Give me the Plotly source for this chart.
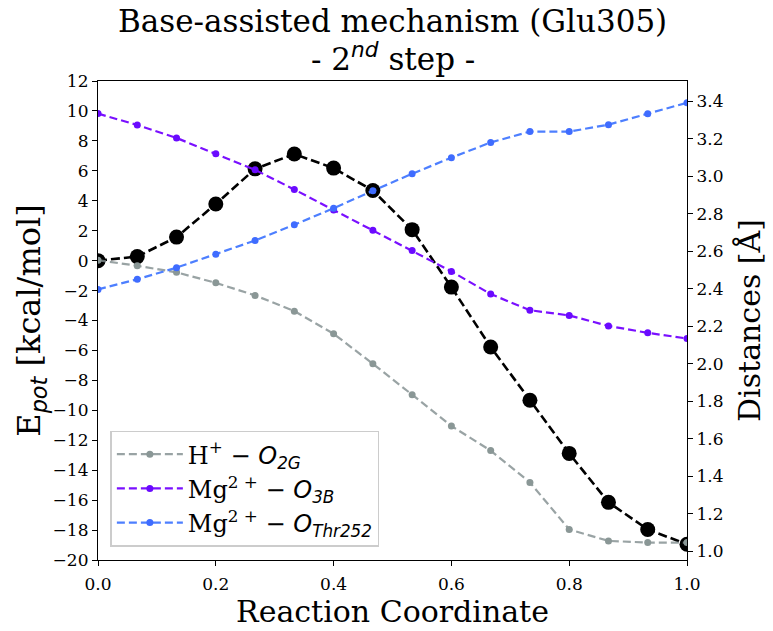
import plotly.graph_objects as go

# Reaction coordinate (16 images)
rc = [i / 15 for i in range(16)]

# Potential energy [kcal/mol] (left axis)
epot = [0.0, 0.27, 1.57, 3.78, 6.13, 7.12, 6.18, 4.68, 2.07, -1.77, -5.77,
        -9.33, -12.88, -16.15, -17.96, -18.95]

# Distances [Å] (right axis)
d_h_o2g = [2.553, 2.523, 2.488, 2.432, 2.365, 2.281, 2.160, 2.000, 1.835, 1.668,
           1.537, 1.367, 1.116, 1.055, 1.046, 1.046]
d_mg_o3b = [3.335, 3.274, 3.205, 3.121, 3.035, 2.930, 2.821, 2.713, 2.605, 2.493,
            2.372, 2.286, 2.258, 2.202, 2.165, 2.135]
d_mg_othr = [2.397, 2.451, 2.513, 2.584, 2.658, 2.742, 2.830, 2.923, 3.014, 3.100,
             3.181, 3.239, 3.239, 3.276, 3.334, 3.393]

x_ticks = [0.0, 0.2, 0.4, 0.6, 0.8, 1.0]
y_ticks = list(range(-20, 13, 2))
y2_ticks = [1.0, 1.2, 1.4, 1.6, 1.8, 2.0, 2.2, 2.4, 2.6, 2.8, 3.0, 3.2, 3.4]

SERIF = "DejaVu Serif"
SANS = "DejaVu Sans"

def sans_it(t):
    return f'<span style="font-family:{SANS};font-style:italic">{t}</span>'

names = [
    "H<sup>+</sup> − " + sans_it("O") + "<sub>" + sans_it("2G") + "</sub>",
    "Mg<sup>2 +</sup> − " + sans_it("O") + "<sub>" + sans_it("3B") + "</sub>",
    "Mg<sup>2 +</sup> − " + sans_it("O") + "<sub>" + sans_it("Thr252") + "</sub>",
]
dist_series = [d_h_o2g, d_mg_o3b, d_mg_othr]
line_colors = ["rgba(127,140,141,0.8)", "#7a10ff", "#4d7fff"]
marker_colors = ["#8a9796", "#6a0aff", "#3f6cff"]
line_widths = [2.2, 2.2, 2.2]

fig = go.Figure()

fig.add_trace(go.Scatter(
    x=rc, y=epot, mode="lines+markers", yaxis="y", showlegend=False,
    line=dict(color="black", width=2.6, dash="9px,4px"),
    marker=dict(color="black", size=15),
))

for nm, ys, lc, mc, lw in zip(names, dist_series, line_colors, marker_colors, line_widths):
    fig.add_trace(go.Scatter(
        x=rc, y=ys, mode="lines+markers", yaxis="y2", name=nm,
        line=dict(color=lc, width=lw, dash="8px,4px"),
        marker=dict(color=mc, size=7),
    ))

axis_common = dict(
    showline=True, linecolor="black", linewidth=1.2,
    ticks="outside", ticklen=5, tickwidth=1.2, tickcolor="black",
    showgrid=False, zeroline=False,
    tickfont=dict(family=SERIF, size=17, color="black"),
)

fig.update_layout(
    width=773, height=631,
    margin=dict(l=97.5, r=84, t=81, b=64.3),
    plot_bgcolor="white", paper_bgcolor="white",
    font=dict(family=SERIF, color="black"),
    xaxis=dict(
        range=[0, 1], tickvals=x_ticks, tickformat=".1f", mirror=True,
        ticklabelstandoff=3,
        title=dict(text="Reaction Coordinate", font=dict(family=SERIF, size=30), standoff=4),
        **axis_common,
    ),
    yaxis=dict(
        range=[-20, 12], tickvals=y_ticks, mirror=True,
        title=dict(text="E<sub>" + sans_it("pot") + "</sub> [kcal/mol]",
                   font=dict(family=SERIF, size=32), standoff=2),
        **axis_common,
    ),
    yaxis2=dict(
        range=[0.953, 3.509], tickvals=y2_ticks, tickformat=".1f",
        overlaying="y", side="right",
        title=dict(text="Distances [Å]", font=dict(family=SERIF, size=30), standoff=16),
        **axis_common,
    ),
    legend=dict(
        x=0.021, y=0.028, xanchor="left", yanchor="bottom",
        bgcolor="rgba(255,255,255,0.8)", bordercolor="#cccccc", borderwidth=1.5,
        font=dict(family=SERIF, size=24, color="black"),
        tracegroupgap=0, itemwidth=66,
    ),
    showlegend=True,
)

fig.add_annotation(
    text="Base-assisted mechanism (Glu305)", xref="paper", yref="paper",
    x=0.5, y=1.0, yshift=40, showarrow=False, xanchor="center", yanchor="bottom",
    font=dict(family=SERIF, size=31, color="black"),
)
fig.add_annotation(
    text="- 2<sup>" + sans_it("nd") + "</sup> step -", xref="paper", yref="paper",
    x=0.5, y=1.0, yshift=2, showarrow=False, xanchor="center", yanchor="bottom",
    font=dict(family=SERIF, size=31, color="black"),
)

fig.write_html("out.html")
